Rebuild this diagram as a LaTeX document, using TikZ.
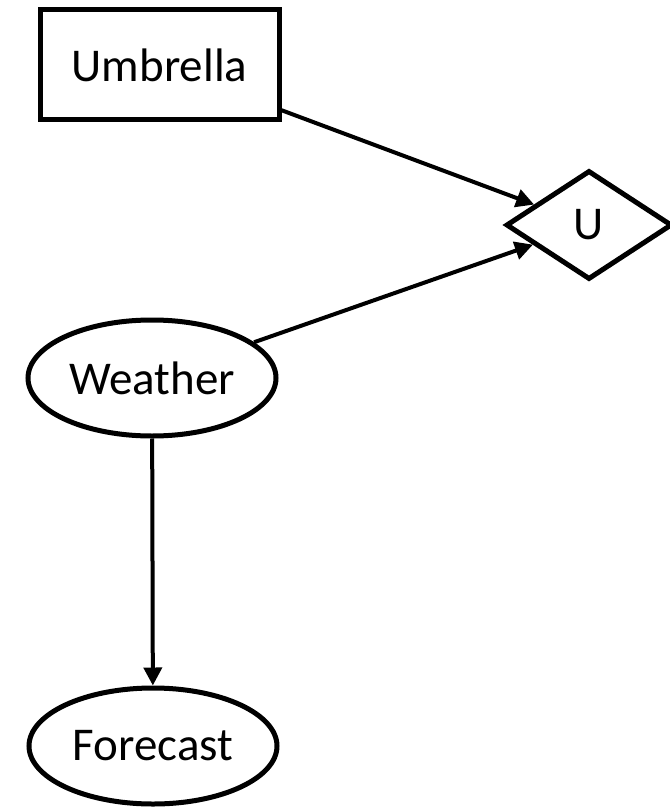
\documentclass[tikz,border=0pt]{standalone}
\usepackage{fontspec}
\setmainfont{Carlito}
\usepackage{tikz}
\usetikzlibrary{shapes}
\usetikzlibrary{arrows.meta}
\tikzstyle{decision}=[draw,rectangle,line width=5pt,inner sep=0pt,minimum width=239pt,minimum height=110pt]
\tikzstyle{chance}=[draw,ellipse,line width=5pt,inner sep=0pt,minimum width=248pt,minimum height=116pt]
\tikzstyle{utility}=[draw,diamond,line width=5pt,inner sep=0pt,minimum width=166pt,minimum height=109pt]
\tikzstyle{link}=[line width=4pt,-{Triangle[length=18pt,width=18pt]}]

\begin{document}
\begin{tikzpicture}[x=1pt,y=1pt,font=\fontsize{47}{56}\selectfont]
      \useasboundingbox (0,0) rectangle (669,-810);
      \node[decision] (umb) at (159.5,-65) {Umbrella};
      \node[utility] (u) at (589,-225) {U};
      \node[chance] (weather) at (152,-378) {Weather};
      \node[chance] (forecast) at (153,-746) {Forecast};
      % links
      \draw[link] (umb) -- (u);
      \draw[link] (weather) -- (u);
      \draw[link] (weather) -- (forecast);
    \end{tikzpicture}
\end{document}
